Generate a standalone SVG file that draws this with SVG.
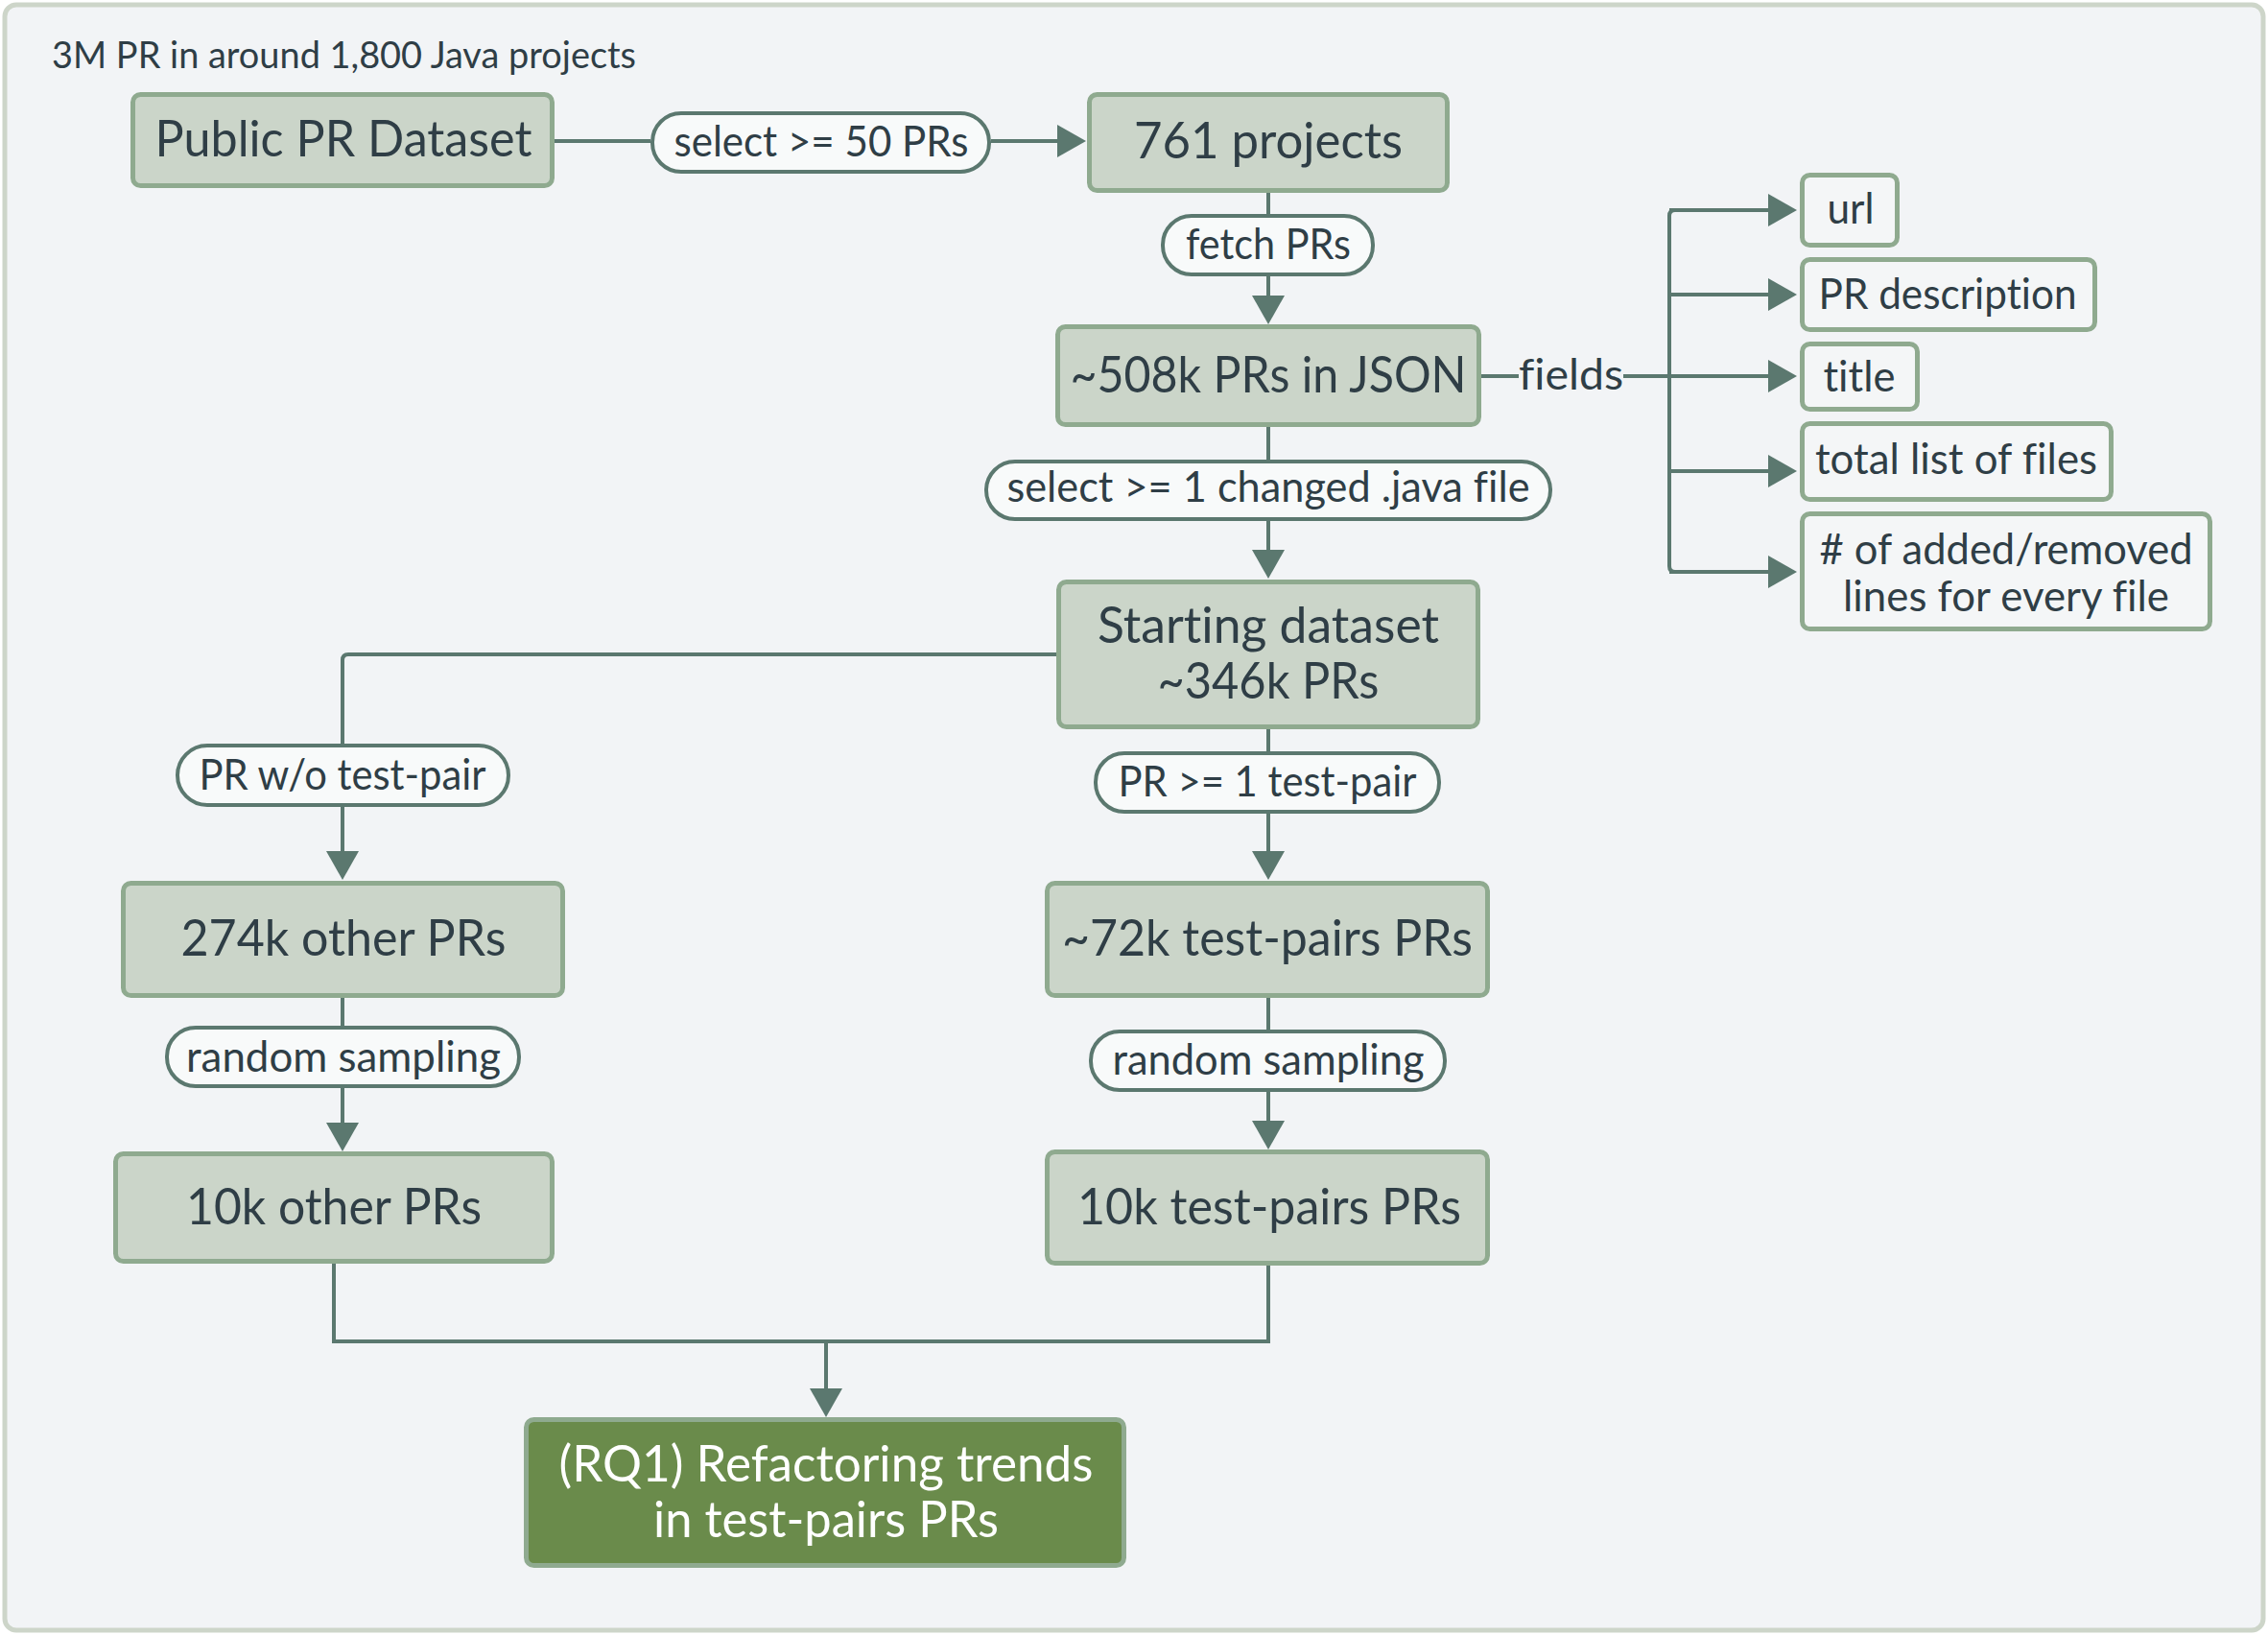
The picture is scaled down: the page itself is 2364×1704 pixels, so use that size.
<svg xmlns="http://www.w3.org/2000/svg" width="2364" height="1704" viewBox="0 0 2364 1704">
<defs>
<marker id="arr" markerUnits="userSpaceOnUse" markerWidth="32" markerHeight="36" refX="0" refY="17" orient="auto">
<path d="M0,0 L30,17 L0,34 Z" fill="#5b786f"/>
</marker>
<style>
text{font-family:Lato,"Open Sans","Liberation Sans",sans-serif;fill:#2f3e46;font-variant-ligatures:none;font-feature-settings:"liga" 0,"clig" 0,"dlig" 0;}
.box{fill:#cbd5c9;stroke:#8faa8f;stroke-width:5;}
.fld{fill:#f4f6f7;stroke:#8faa8f;stroke-width:5;}
.pill{fill:#f8fafa;stroke:#5b786f;stroke-width:4;}
.rq{fill:#6a8b4b;stroke:#8faa8f;stroke-width:5;}
.big{font-size:52px;text-anchor:middle;}
.lbl{font-size:44px;text-anchor:middle;}
.wt{fill:#ffffff;}
.c{fill:none;stroke:#5b786f;stroke-width:4;}
.ca{fill:none;stroke:#5b786f;stroke-width:4;marker-end:url(#arr);}
</style>
</defs>
<rect x="0" y="0" width="2364" height="1704" fill="#ffffff"/>
<rect x="5" y="5" width="2354" height="1694" rx="12" fill="#f2f4f6" stroke="#cdd5c9" stroke-width="5"/>
<text x="54" y="71" font-size="39" textLength="609" lengthAdjust="spacingAndGlyphs">3M PR in around 1,800 Java projects</text>

<g id="connectors">
<path class="c" d="M578,147 H678"/>
<path class="ca" d="M1033,147 H1102"/>
<path class="c" d="M1322,201 V223"/>
<path class="ca" d="M1322,288 V308"/>
<path class="c" d="M1544,392 H1583"/>
<path class="ca" d="M1692,392 H1843"/>
<path class="c" d="M1843,219 H1746 Q1740,219 1740,225 V590 Q1740,596 1746,596"/>
<path class="ca" d="M1740,219 H1843"/>
<path class="ca" d="M1740,307 H1843"/>
<path class="ca" d="M1740,491 H1843"/>
<path class="ca" d="M1740,596 H1843"/>
<path class="c" d="M1322,445 V479"/>
<path class="ca" d="M1322,543 V573"/>
<path class="c" d="M1101,682 H363 Q357,682 357,688 V775"/>
<path class="ca" d="M357,841 V887"/>
<path class="c" d="M357,1040 V1069"/>
<path class="ca" d="M357,1134 V1170"/>
<path class="c" d="M1322,760 V783"/>
<path class="ca" d="M1322,848 V887"/>
<path class="c" d="M1322,1040 V1073"/>
<path class="ca" d="M1322,1138 V1168"/>
<path class="c" d="M348,1317 V1398 H1322 V1319"/>
<path class="ca" d="M861,1398 V1447"/>
</g>

<g id="n-public"><rect class="box" x="138.5" y="98.5" width="437" height="95" rx="8"/><text class="big" x="358" y="163" textLength="393" lengthAdjust="spacingAndGlyphs">Public PR Dataset</text></g>
<g id="l-select50"><rect class="pill" x="680" y="118" width="351" height="61" rx="30"/><text class="lbl" x="856" y="163" textLength="307" lengthAdjust="spacingAndGlyphs">select &gt;= 50 PRs</text></g>
<g id="n-761"><rect class="box" x="1135.5" y="98.5" width="373" height="100" rx="8"/><text class="big" x="1322" y="165" textLength="280" lengthAdjust="spacingAndGlyphs">761 projects</text></g>
<g id="l-fetch"><rect class="pill" x="1212" y="225" width="219" height="61" rx="30"/><text class="lbl" x="1322" y="270" textLength="172" lengthAdjust="spacingAndGlyphs">fetch PRs</text></g>
<g id="n-json"><rect class="box" x="1102.5" y="340.5" width="439" height="102" rx="8"/><text class="big" x="1322" y="409" textLength="413" lengthAdjust="spacingAndGlyphs">~508k PRs in JSON</text></g>
<g id="l-fields"><text x="1583" y="406" font-size="44" textLength="109" lengthAdjust="spacingAndGlyphs">fields</text></g>
<g id="f-url"><rect class="fld" x="1878.5" y="182.5" width="99" height="73" rx="8"/><text class="lbl" x="1929" y="233" textLength="49" lengthAdjust="spacingAndGlyphs">url</text></g>
<g id="f-desc"><rect class="fld" x="1878.5" y="270.5" width="305" height="73" rx="8"/><text class="lbl" x="2030" y="322" textLength="269" lengthAdjust="spacingAndGlyphs">PR description</text></g>
<g id="f-title"><rect class="fld" x="1878.5" y="358.5" width="120" height="68" rx="8"/><text class="lbl" x="1938" y="408" textLength="75" lengthAdjust="spacingAndGlyphs">title</text></g>
<g id="f-files"><rect class="fld" x="1878.5" y="441.5" width="322" height="79" rx="8"/><text class="lbl" x="2039" y="494" textLength="294" lengthAdjust="spacingAndGlyphs">total list of files</text></g>
<g id="f-lines"><rect class="fld" x="1878.5" y="535.5" width="425" height="120" rx="8"/><text class="lbl" x="2091" y="588" textLength="389" lengthAdjust="spacingAndGlyphs"># of added/removed</text><text class="lbl" x="2091" y="637" textLength="340" lengthAdjust="spacingAndGlyphs">lines for every file</text></g>
<g id="l-java"><rect class="pill" x="1028" y="481" width="588" height="60" rx="30"/><text class="lbl" x="1322" y="523" textLength="545" lengthAdjust="spacingAndGlyphs">select &gt;= 1 changed .java file</text></g>
<g id="n-start"><rect class="box" x="1103.5" y="606.5" width="437" height="151" rx="8"/><text class="big" x="1322" y="670" textLength="356" lengthAdjust="spacingAndGlyphs">Starting dataset</text><text class="big" x="1322" y="728" textLength="231" lengthAdjust="spacingAndGlyphs">~346k PRs</text></g>
<g id="l-wo"><rect class="pill" x="185" y="777" width="345" height="62" rx="31"/><text class="lbl" x="357" y="823" textLength="299" lengthAdjust="spacingAndGlyphs">PR w/o test-pair</text></g>
<g id="n-274k"><rect class="box" x="128.5" y="920.5" width="458" height="117" rx="8"/><text class="big" x="358" y="996" textLength="339" lengthAdjust="spacingAndGlyphs">274k other PRs</text></g>
<g id="l-randL"><rect class="pill" x="174" y="1071" width="367" height="61" rx="30"/><text class="lbl" x="358" y="1117" textLength="328" lengthAdjust="spacingAndGlyphs">random sampling</text></g>
<g id="n-10kother"><rect class="box" x="120.5" y="1202.5" width="455" height="112" rx="8"/><text class="big" x="348" y="1276" textLength="308" lengthAdjust="spacingAndGlyphs">10k other PRs</text></g>
<g id="l-pair"><rect class="pill" x="1142" y="785" width="358" height="61" rx="30"/><text class="lbl" x="1321" y="830" textLength="311" lengthAdjust="spacingAndGlyphs">PR &gt;= 1 test-pair</text></g>
<g id="n-72k"><rect class="box" x="1091.5" y="920.5" width="459" height="117" rx="8"/><text class="big" x="1321" y="996" textLength="428" lengthAdjust="spacingAndGlyphs">~72k test-pairs PRs</text></g>
<g id="l-randR"><rect class="pill" x="1137" y="1075" width="369" height="61" rx="30"/><text class="lbl" x="1322" y="1120" textLength="325" lengthAdjust="spacingAndGlyphs">random sampling</text></g>
<g id="n-10ktest"><rect class="box" x="1091.5" y="1200.5" width="459" height="116" rx="8"/><text class="big" x="1323" y="1276" textLength="400" lengthAdjust="spacingAndGlyphs">10k test-pairs PRs</text></g>
<g id="n-rq1"><rect class="rq" x="548.5" y="1479.5" width="623" height="152" rx="8"/><text class="big wt" x="861" y="1544" textLength="557" lengthAdjust="spacingAndGlyphs">(RQ1) Refactoring trends</text><text class="big wt" x="861" y="1602" textLength="360" lengthAdjust="spacingAndGlyphs">in test-pairs PRs</text></g>
</svg>
